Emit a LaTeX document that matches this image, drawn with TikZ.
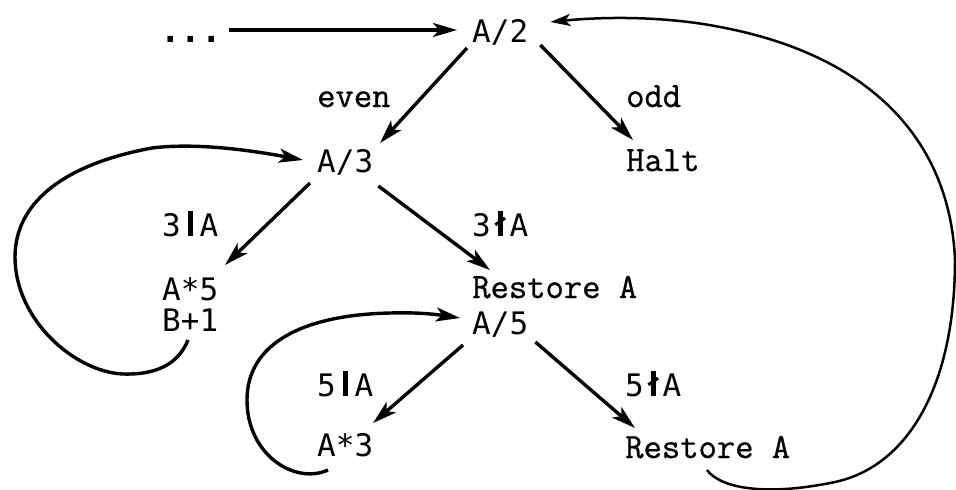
\documentclass[tikz,border=0pt]{standalone}
\usepackage{fontspec}
\usepackage{graphicx}
\usetikzlibrary{arrows.meta,calc}
% hand-lettered labels and typewritten words
\newfontfamily\handfont{DejaVu Sans Mono}
\newfontfamily\typefont[FakeBold=0.8]{Latin Modern Mono}
% "divides" and "does not divide" bars, one character cell wide
\newcommand{\dvd}{\makebox[0.602em]{\rule{0.16em}{0.8em}}}
\newcommand{\ndvd}{\makebox[0.602em]{\ooalign{\hfil\rule{0.16em}{0.8em}\hfil\cr
  \hfil\raisebox{0.32em}{\rotatebox{35}{\rule{0.38em}{0.1em}}}\hfil\cr}}}
\begin{document}
\begin{tikzpicture}[x=1pt,y=-1pt,
  hand/.style={anchor=base west, inner sep=0pt, font=\handfont\fontsize{31}{31}\selectfont},
  typed/.style={anchor=base west, inner sep=0pt, font=\typefont\bfseries\fontsize{35.6}{36}\selectfont},
  arr/.style={line width=3.4pt, -{Stealth[length=24pt,width=14pt,inset=6pt]}},
  loopback/.style={line width=3.4pt, -{Stealth[length=24pt,width=14pt,inset=6pt]}},
  bigloop/.style={line width=2.5pt, -{Stealth[length=20pt,width=12pt,inset=5pt]}}]
\useasboundingbox (0,0) rectangle (956,490);

% states and conditions
\node[hand, font=\handfont\bfseries\fontsize{34}{34}\selectfont] (dots) at (160,42) {...};
\node[hand]  (a2)   at (472,42)  {A/2};
\node[typed] (even) at (317,107) {even};
\node[typed] (odd)  at (626,107) {odd};
\node[hand]  (a3)   at (317,172) {A/3};
\node[typed] (halt) at (626,171) {Halt};
\node[hand]  (d3)   at (162,236) {3\dvd A};
\node[hand]  (nd3)  at (472,236) {3\ndvd A};
\node[hand]  (m5)   at (162,300) {A*5};
\node[hand]  (b1)   at (162,331) {B+1};
\node[typed] (ra1)  at (472,298) {Restore A};
\node[hand]  (a5)   at (472,334) {A/5};
\node[hand]  (d5)   at (317,396) {5\dvd A};
\node[hand]  (nd5)  at (625,396) {5\ndvd A};
\node[hand]  (m3)   at (317,456) {A*3};
\node[typed] (ra2)  at (625,458) {Restore A};

% straight transitions
\draw[arr] ($(dots.base east)+(7,-12)$) -- ($(a2.base west)+(-15,-12)$);
\draw[arr] ($(a2.base west)+(-5,6)$) -- ($(a3.base west)+(63,-29)$);
\draw[arr] ($(a2.base east)+(12,3)$) -- ($(halt.base west)+(7,-31)$);
\draw[arr] ($(a3.base west)+(-7,11)$) -- ($(m5.base west)+(63,-35)$);
\draw[arr] ($(a3.base east)+(5,14)$) -- ($(ra1.base west)+(18,-28)$);
\draw[arr] ($(a5.base west)+(-9,11)$) -- ($(m3.base west)+(56,-33)$);
\draw[arr] ($(a5.base east)+(7,8)$) -- ($(ra2.base west)+(10,-30)$);

% loop from B+1 back to A/3
\draw[loopback] ($(b1.base west)+(26,9)$)
  .. controls (178,365) and (155,375) .. (123,374)
  .. controls (75,372) and (15,320) .. (15,257)
  .. controls (15,205) and (60,165) .. (152,148)
  .. controls (200,142) and (260,152) .. ($(a3.base west)+(-14,-12)$);

% loop from A*3 back to A/5
\draw[loopback] ($(m3.base west)+(11,14)$)
  .. controls (295,485) and (247,455) .. (247,400)
  .. controls (247,345) and (300,315) .. (390,313)
  .. controls (420,312) and (440,315) .. ($(a5.base west)+(-12,-16)$);

% loop from the last Restore A back to A/2
\draw[bigloop] ($(ra2.base west)+(82,12)$)
  .. controls (722,490) and (770,495) .. (830,483)
  .. controls (905,470) and (955,390) .. (955,260)
  .. controls (950,140) and (870,55) .. (720,27)
  .. controls (670,17) and (610,16) .. ($(a2.base east)+(22,-20)$);
\end{tikzpicture}
\end{document}
